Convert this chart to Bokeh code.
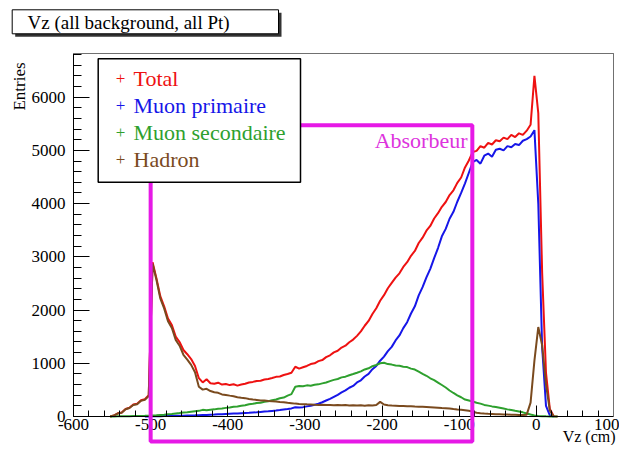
import math
import numpy as np
from bokeh.plotting import figure
from bokeh.models import Range1d, SingleIntervalTicker, BoxAnnotation, Label, ColumnDataSource
from bokeh.embed import file_html
from bokeh.resources import INLINE

# ---------------- data (5 cm bins from -600 to 100 cm) ----------------
BIN_LOW = -600
BIN_WIDTH = 5

total = [
    0, 0, 0, 0, 0, 0, 0, 0, 0, 0,
    20, 60, 75, 140, 165, 225, 240, 305, 325, 400,
    2900, 2600, 2260, 2070, 1840, 1720, 1500, 1400, 1250, 1170,
    1080, 950, 720, 640, 700, 625, 615, 635, 600, 612,
    590, 605, 580, 600, 615, 640, 650, 668, 672, 695,
    705, 722, 745, 752, 780, 800, 822, 935, 900, 925,
    950, 985, 1000, 1040, 1060, 1115, 1150, 1205, 1235, 1295,
    1330, 1395, 1445, 1515, 1600, 1705, 1795, 1925, 2035, 2175,
    2280, 2410, 2510, 2610, 2690, 2810, 2900, 3020, 3110, 3260,
    3360, 3490, 3580, 3720, 3820, 3940, 4030, 4160, 4250, 4390,
    4490, 4680, 4810, 4970, 4990, 5080, 5050, 5140, 5110, 5190,
    5170, 5240, 5210, 5290, 5250, 5320, 5290, 5370, 5480, 6400,
    5700, 2700, 820, 140, 5, 0, 0, 0, 0, 0,
    0, 0, 0, 0, 0, 0, 0, 0, 0, 0,
]

muon_primaire = [
    0, 0, 0, 0, 0, 0, 0, 0, 0, 0,
    0, 0, 0, 0, 0, 0, 0, 0, 0, 2,
    4, 5, 6, 8, 8, 10, 12, 14, 15, 18,
    20, 22, 25, 28, 30, 33, 36, 40, 44, 48,
    52, 55, 58, 62, 66, 70, 75, 80, 86, 92,
    98, 105, 112, 120, 130, 140, 152, 175, 168, 176,
    190, 202, 222, 240, 268, 300, 332, 370, 408, 452,
    490, 540, 575, 640, 680, 752, 800, 888, 950, 1048,
    1125, 1228, 1308, 1430, 1522, 1660, 1772, 1935, 2070, 2275,
    2430, 2615, 2775, 2975, 3165, 3385, 3525, 3715, 3845, 4035,
    4200, 4380, 4580, 4780, 4820, 4750, 4900, 4940, 4880, 5010,
    5030, 5000, 5080, 5060, 5120, 5100, 5180, 5210, 5260, 5380,
    4000, 1300, 200, 20, 0, 0, 0, 0, 0, 0,
    0, 0, 0, 0, 0, 0, 0, 0, 0, 0,
]

muon_secondaire = [
    0, 0, 0, 0, 0, 0, 0, 0, 0, 0,
    2, 3, 4, 5, 6, 8, 9, 11, 13, 16,
    20, 24, 30, 34, 41, 48, 56, 64, 74, 80,
    90, 98, 106, 125, 118, 126, 134, 146, 150, 162,
    168, 182, 188, 202, 212, 230, 238, 252, 258, 276,
    288, 306, 318, 342, 356, 392, 420, 560, 572, 570,
    585, 578, 598, 604, 622, 638, 664, 688, 705, 735,
    748, 775, 798, 822, 848, 884, 905, 945, 968, 1000,
    1010, 985, 975, 958, 952, 936, 928, 900, 882, 842,
    802, 765, 718, 684, 638, 592, 545, 488, 442, 398,
    362, 318, 300, 282, 258, 242, 218, 204, 190, 180,
    165, 150, 134, 122, 108, 95, 78, 56, 36, 20,
    10, 5, 3, 2, 1, 0, 0, 0, 0, 0,
    0, 0, 0, 0, 0, 0, 0, 0, 0, 0,
]

hadron = [
    0, 0, 0, 0, 0, 0, 0, 0, 0, 0,
    18, 57, 71, 135, 159, 217, 231, 294, 312, 384,
    2870, 2570, 2220, 2030, 1790, 1665, 1440, 1330, 1160, 1070,
    970, 830, 560, 505, 520, 478, 455, 445, 415, 405,
    392, 380, 362, 352, 345, 330, 320, 312, 302, 300,
    290, 285, 280, 272, 268, 258, 250, 242, 236, 232,
    228, 226, 220, 218, 222, 215, 218, 212, 216, 210,
    214, 208, 212, 206, 210, 204, 212, 208, 214, 275,
    225, 212, 206, 204, 198, 196, 194, 192, 188, 185,
    182, 178, 174, 170, 166, 160, 156, 150, 140, 132,
    125, 118, 108, 92, 70, 62, 55, 50, 46, 42,
    40, 38, 36, 34, 32, 30, 30, 35, 260, 1050,
    1680, 1340, 600, 110, 0, 0, 0, 0, 0, 0,
    0, 0, 0, 0, 0, 0, 0, 0, 0, 0,
]

series_names = ["Total", "Muon primaire", "Muon secondaire", "Hadron"]
x_ticks = [-600, -500, -400, -300, -200, -100, 0, 100]
y_ticks = [0, 1000, 2000, 3000, 4000, 5000, 6000]
absorber_z = [-500, -83]
absorber_top = 5470

# ---------------- geometry ----------------
FONT = "Liberation Serif"
COLORS = ["#ee1111", "#1616e8", "#2ea02e", "#7a4a1e"]
MAGENTA = "#e619e6"

W, H = 619, 445
XA0, XA1 = -600, 100          # axis span (data)
YA0, YA1 = 0, 6820
PX_L, PX_R = 73, 613          # where the axis span sits on the canvas (px)
PY_T, PY_B = 53, 416
SX = (XA1 - XA0) / (PX_R - PX_L)   # data units per px
SY = (YA1 - YA0) / (PY_B - PY_T)


def X(px):  # canvas pixel -> data x
    return XA0 + (px - PX_L) * SX


def Y(py):  # canvas pixel -> data y
    return YA0 + (PY_B - py) * SY


p = figure(width=W, height=H, output_backend="svg", toolbar_location=None, title=None,
           x_range=Range1d(X(0), X(W)), y_range=Range1d(Y(H), Y(0)),
           min_border=0, min_border_left=0, min_border_right=0,
           min_border_top=0, min_border_bottom=0)
p.xgrid.visible = False
p.ygrid.visible = False
p.background_fill_color = "white"
p.border_fill_color = "white"
p.outline_line_color = None

xa = p.xaxis[0]
xa.fixed_location = YA0
xa.bounds = (XA0, XA1)
xa.ticker = SingleIntervalTicker(interval=100, num_minor_ticks=5)
xa.major_label_overrides = {t: str(t) for t in x_ticks}
xa.major_tick_in = 11
xa.major_tick_out = 0
xa.minor_tick_in = 6
xa.minor_tick_out = 0
xa.major_label_standoff = 2
ya = p.yaxis[0]
ya.fixed_location = XA0
ya.bounds = (YA0, YA1)
ya.ticker = SingleIntervalTicker(interval=1000, num_minor_ticks=5)
ya.major_label_overrides = {t: str(t) for t in y_ticks}
ya.major_tick_in = 16
ya.major_tick_out = 0
ya.minor_tick_in = 8
ya.minor_tick_out = 0
ya.major_label_standoff = 8
for ax in (xa, ya):
    ax.axis_line_color = "black"
    ax.major_tick_line_color = "black"
    ax.minor_tick_line_color = "black"
    ax.major_label_text_font = FONT
    ax.major_label_text_font_size = "17px"
    ax.major_label_text_color = "black"

# frame top and right borders (grey)
p.add_layout(BoxAnnotation(left=XA0, right=XA1, top=YA1, bottom=YA1, fill_alpha=0,
                           line_color="#707070", line_alpha=1, line_width=1))
p.add_layout(BoxAnnotation(left=XA1, right=XA1, top=YA1, bottom=YA0, fill_alpha=0,
                           line_color="#707070", line_alpha=1, line_width=1))

# ---------------- histograms ----------------
n = len(total)
centers = BIN_LOW + BIN_WIDTH * (np.arange(n) + 0.5)


def masked(vals):
    v = np.array(vals, dtype=float)
    out = v.copy()
    for i in range(len(v)):
        left = v[i - 1] if i > 0 else 0
        right = v[i + 1] if i < len(v) - 1 else 0
        if v[i] == 0 and left == 0 and right == 0:
            out[i] = np.nan
    return out


for vals, col, name in zip([total, muon_primaire, muon_secondaire, hadron], COLORS, series_names):
    src = ColumnDataSource(dict(x=centers, y=masked(vals)))
    p.line("x", "y", source=src, line_color=col, line_width=2, name=name)

# ---------------- absorber box ----------------
p.add_layout(BoxAnnotation(left=absorber_z[0], right=absorber_z[1], top=absorber_top, bottom=Y(441),
                           fill_alpha=0, line_color=MAGENTA, line_alpha=1, line_width=4))
p.add_layout(Label(x=X(467), y=Y(140), text="Absorbeur", text_align="right", text_baseline="middle",
                   text_font=FONT, text_font_size="22px", text_color="#dd33dd"))

# ---------------- legend ----------------
p.add_layout(BoxAnnotation(left=X(97.7), right=X(300), top=Y(58.3), bottom=Y(181.7),
                           fill_color="white", fill_alpha=1, line_color="black", line_alpha=1,
                           line_width=1.5))
rows = [78, 105, 132, 159]
for name, col, ry in zip(series_names, COLORS, rows):
    p.add_layout(Label(x=X(120), y=Y(ry), text="+", text_align="center", text_baseline="middle",
                       text_font=FONT, text_font_size="17px", text_color=col))
    p.add_layout(Label(x=X(133), y=Y(ry), text=name, text_align="left", text_baseline="middle",
                       text_font=FONT, text_font_size="22px", text_color=col))

# ---------------- title box ----------------
p.add_layout(BoxAnnotation(left=X(14.7), right=X(281), top=Y(12.3), bottom=Y(36.3),
                           fill_color="#333333", fill_alpha=1, line_alpha=0))
p.add_layout(BoxAnnotation(left=X(11.7), right=X(278), top=Y(9.3), bottom=Y(33.3),
                           fill_color="white", fill_alpha=1, line_color="black", line_alpha=1,
                           line_width=1))
p.add_layout(Label(x=X(27), y=Y(21.5), text="Vz (all background, all Pt)", text_align="left",
                   text_baseline="middle", text_font=FONT, text_font_size="19px", text_color="black"))

# ---------------- axis titles ----------------
p.add_layout(Label(x=X(19), y=Y(86), text="Entries", angle=math.pi / 2, text_align="center",
                   text_baseline="middle", text_font=FONT, text_font_size="17px", text_color="black"))
p.add_layout(Label(x=X(615), y=Y(436), text="Vz (cm)", text_align="right", text_baseline="middle",
                   text_font=FONT, text_font_size="16px", text_color="black"))

open("out.html", "w").write(file_html(p, INLINE))
